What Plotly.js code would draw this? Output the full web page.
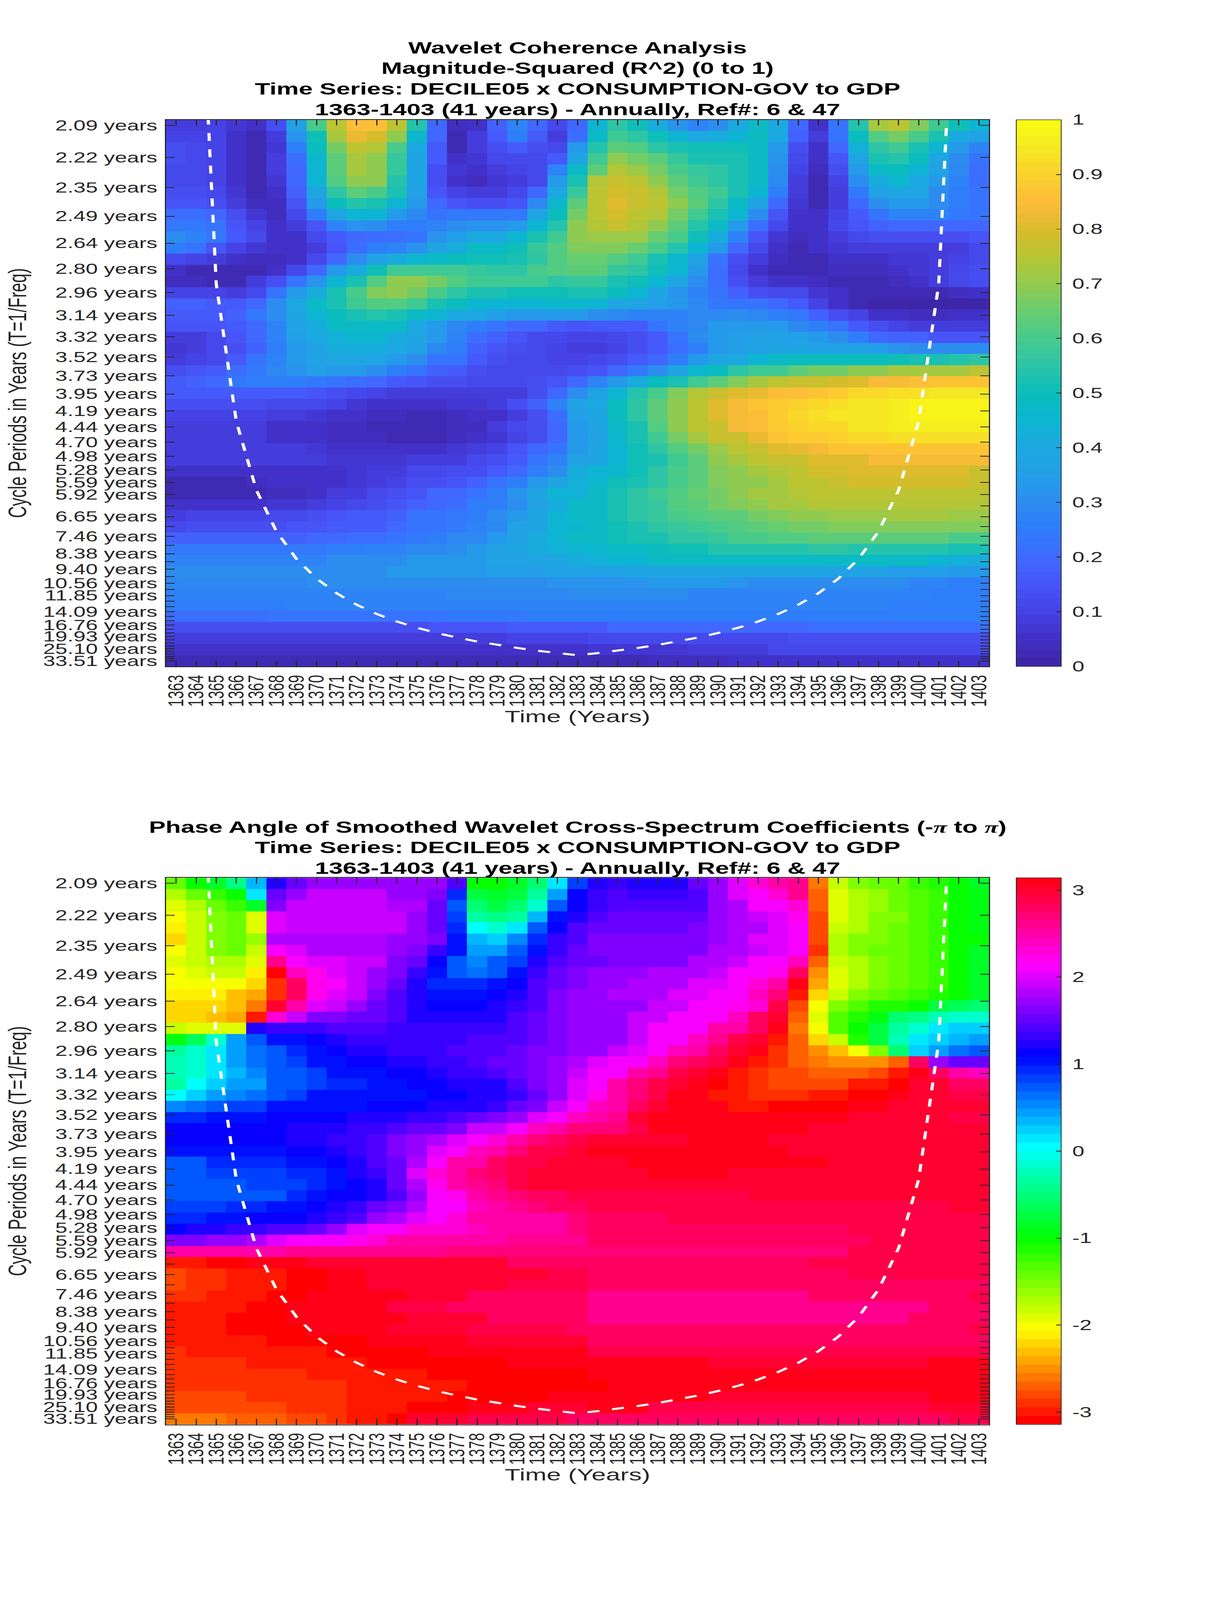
<!DOCTYPE html>
<html><head><meta charset="utf-8">
<script src="https://cdn.plot.ly/plotly-3.0.1.min.js"></script>
<style>html,body{margin:0;padding:0;background:#fff;overflow:hidden}#c{width:3125px;height:6252px}</style>
</head><body><div id="c"></div>
<script>
const years=[1363,1364,1365,1366,1367,1368,1369,1370,1371,1372,1373,1374,1375,1376,1377,1378,1379,1380,1381,1382,1383,1384,1385,1386,1387,1388,1389,1390,1391,1392,1393,1394,1395,1396,1397,1398,1399,1400,1401,1402,1403];
const periods=[2.0946,2.2191,2.3511,2.4909,2.6390,2.7959,2.9622,3.1383,3.3249,3.5227,3.7322,3.9541,4.1892,4.4383,4.7022,4.9818,5.2780,5.5919,5.9244,6.2767,6.6499,7.0454,7.4644,7.9082,8.3784,8.8766,9.4044,9.9636,10.5561,11.1838,11.8488,12.5533,13.2998,14.0906,14.9285,15.8161,16.7566,17.7530,18.8086,19.9270,21.1119,22.3673,23.6973,25.1040,26.5992,28.1809,29.8566,31.6319,33.5128];
const labeledPeriods=[0,1,2,3,4,5,6,7,8,9,10,11,12,13,14,15,16,17,18,20,22,24,26,28,30,33,36,39,43,48];
const coiYears=[1364,1365,1366,1367,1368,1369,1370,1371,1372,1373,1374,1375,1376,1377,1378,1379,1380,1381,1382,1383,1384,1385,1386,1387,1388,1389,1390,1391,1392,1393,1394,1395,1396,1397,1398,1399,1400,1401,1402];
const coiFreq=[.69,.345,.23,.1725,.138,.115,.0986,.0863,.0767,.069,.0627,.0575,.0531,.0493,.046,.0431,.0406,.0383,.0363,.0345,.0363,.0383,.0406,.0431,.046,.0493,.0531,.0575,.0627,.069,.0767,.0863,.0986,.115,.138,.1725,.23,.345,.69];

// Magnitude-squared coherence, one line per period, from 2.09 years down to 33.51 years
const coherence=[
[.09,.09,.10,.07,.05,.13,.37,.60,.76,.85,.85,.76,.54,.20,.04,.05,.18,.28,.20,.12,.20,.44,.56,.50,.42,.32,.28,.30,.40,.47,.40,.20,.06,.22,.54,.72,.75,.68,.58,.50,.44],
[.10,.10,.10,.05,.03,.08,.32,.51,.72,.82,.79,.70,.46,.19,.03,.08,.17,.25,.17,.09,.21,.47,.58,.56,.50,.45,.40,.42,.45,.49,.40,.18,.09,.22,.49,.62,.66,.60,.52,.40,.36],
[.13,.12,.10,.05,.03,.07,.26,.49,.66,.76,.74,.60,.40,.17,.03,.08,.14,.17,.13,.12,.33,.54,.64,.61,.55,.52,.50,.50,.51,.48,.33,.14,.06,.20,.43,.56,.59,.53,.44,.34,.28],
[.13,.11,.10,.05,.03,.08,.21,.46,.64,.72,.70,.57,.38,.16,.05,.07,.12,.11,.11,.16,.39,.59,.70,.67,.63,.57,.53,.53,.52,.48,.32,.12,.05,.15,.39,.52,.54,.49,.38,.30,.23],
[.12,.11,.10,.05,.03,.08,.19,.45,.63,.73,.69,.57,.38,.14,.07,.05,.09,.10,.12,.27,.48,.64,.74,.71,.66,.60,.57,.55,.53,.47,.31,.10,.04,.14,.33,.47,.49,.45,.36,.29,.21],
[.11,.11,.10,.05,.03,.07,.19,.45,.61,.69,.69,.54,.38,.13,.06,.04,.07,.08,.12,.33,.53,.74,.77,.75,.69,.63,.58,.55,.52,.47,.29,.09,.02,.10,.31,.42,.46,.40,.33,.28,.21],
[.14,.13,.11,.07,.03,.05,.18,.39,.55,.64,.60,.53,.36,.15,.10,.09,.08,.11,.19,.40,.57,.76,.79,.77,.74,.66,.62,.59,.52,.44,.25,.09,.02,.09,.24,.37,.39,.38,.31,.26,.23],
[.15,.15,.14,.09,.04,.04,.15,.34,.49,.54,.52,.44,.33,.19,.15,.14,.14,.15,.29,.46,.63,.76,.80,.78,.75,.70,.64,.56,.48,.38,.20,.07,.03,.09,.20,.31,.34,.33,.30,.26,.23],
[.21,.21,.20,.13,.07,.04,.11,.26,.39,.44,.44,.34,.29,.23,.24,.24,.24,.24,.38,.49,.67,.75,.79,.76,.74,.67,.58,.52,.44,.31,.15,.06,.05,.10,.16,.23,.28,.28,.27,.24,.23],
[.24,.24,.23,.15,.10,.06,.08,.15,.27,.32,.30,.26,.26,.28,.31,.32,.32,.34,.45,.54,.69,.74,.77,.74,.70,.64,.54,.47,.34,.21,.11,.06,.06,.12,.15,.18,.20,.20,.20,.20,.20],
[.30,.28,.24,.16,.11,.06,.05,.11,.16,.20,.21,.21,.22,.32,.35,.40,.40,.45,.52,.59,.69,.71,.71,.71,.65,.60,.51,.41,.27,.15,.07,.04,.05,.09,.12,.13,.14,.14,.13,.14,.15],
[.25,.22,.15,.10,.07,.05,.05,.09,.15,.21,.25,.28,.32,.38,.42,.47,.48,.51,.57,.62,.68,.68,.68,.65,.60,.54,.44,.33,.20,.11,.06,.03,.05,.07,.08,.09,.08,.08,.08,.09,.12],
[.12,.10,.08,.05,.04,.04,.05,.11,.20,.30,.36,.41,.46,.47,.49,.50,.51,.53,.55,.62,.65,.65,.61,.58,.53,.46,.36,.22,.14,.08,.04,.03,.02,.05,.06,.06,.07,.07,.08,.10,.11],
[.06,.03,.02,.02,.02,.05,.11,.20,.34,.42,.51,.58,.59,.59,.58,.57,.56,.56,.60,.62,.64,.64,.57,.55,.50,.45,.34,.21,.12,.06,.03,.03,.02,.04,.04,.04,.05,.07,.09,.12,.13],
[.04,.04,.03,.03,.08,.14,.22,.32,.44,.53,.61,.69,.69,.66,.62,.58,.58,.58,.58,.56,.57,.57,.53,.50,.45,.38,.30,.21,.14,.08,.06,.05,.04,.03,.03,.03,.04,.05,.08,.12,.13],
[.10,.10,.10,.09,.12,.23,.33,.41,.52,.60,.68,.69,.66,.60,.56,.52,.52,.51,.51,.51,.52,.52,.49,.44,.38,.32,.27,.22,.18,.14,.12,.11,.07,.05,.03,.02,.02,.02,.03,.04,.05],
[.18,.18,.17,.17,.20,.30,.40,.47,.53,.58,.61,.61,.58,.53,.49,.46,.45,.45,.45,.46,.46,.45,.39,.38,.35,.33,.29,.24,.23,.22,.19,.16,.10,.06,.03,.01,.01,.01,.01,.01,.01],
[.17,.17,.17,.18,.24,.31,.38,.45,.49,.53,.54,.53,.48,.44,.40,.40,.35,.33,.33,.33,.33,.30,.29,.28,.28,.28,.29,.29,.30,.29,.26,.24,.18,.14,.10,.06,.05,.04,.04,.05,.05],
[.15,.15,.15,.16,.20,.28,.36,.41,.47,.48,.48,.47,.40,.34,.29,.26,.22,.20,.20,.17,.15,.16,.16,.17,.22,.27,.29,.33,.34,.34,.33,.29,.25,.22,.16,.13,.10,.09,.08,.08,.08],
[.09,.09,.11,.15,.19,.27,.35,.40,.43,.46,.46,.42,.38,.33,.28,.21,.18,.15,.12,.11,.10,.10,.12,.13,.17,.22,.31,.33,.35,.36,.36,.35,.33,.30,.25,.20,.18,.18,.15,.15,.15],
[.07,.09,.11,.13,.18,.26,.33,.37,.41,.41,.41,.40,.37,.29,.26,.18,.15,.13,.11,.10,.09,.09,.10,.14,.17,.21,.26,.34,.35,.37,.39,.39,.37,.37,.36,.35,.32,.30,.30,.30,.30],
[.09,.10,.12,.17,.22,.27,.33,.37,.38,.39,.39,.34,.31,.23,.23,.17,.13,.11,.11,.10,.10,.11,.14,.16,.20,.26,.33,.39,.40,.45,.47,.49,.49,.49,.49,.49,.51,.52,.52,.54,.55],
[.13,.15,.17,.21,.24,.29,.32,.35,.33,.33,.30,.25,.23,.18,.17,.14,.12,.11,.11,.11,.14,.15,.19,.24,.30,.39,.46,.49,.55,.58,.58,.63,.66,.66,.70,.70,.72,.72,.72,.73,.76],
[.17,.18,.20,.24,.26,.26,.26,.24,.22,.21,.19,.17,.15,.14,.13,.12,.12,.12,.13,.15,.20,.27,.33,.41,.49,.53,.58,.64,.68,.72,.76,.77,.78,.79,.81,.83,.84,.85,.86,.87,.87],
[.16,.16,.16,.17,.17,.17,.16,.15,.13,.12,.10,.09,.08,.08,.08,.09,.09,.08,.14,.20,.31,.37,.45,.54,.60,.68,.74,.78,.81,.82,.85,.85,.87,.89,.91,.92,.93,.93,.95,.95,.95],
[.13,.13,.13,.13,.13,.12,.12,.11,.10,.07,.05,.05,.05,.05,.07,.07,.09,.13,.18,.27,.36,.40,.49,.55,.64,.70,.76,.80,.84,.87,.89,.90,.91,.93,.95,.95,.96,.97,.98,.98,.98],
[.10,.10,.10,.10,.10,.08,.08,.07,.06,.05,.04,.04,.02,.02,.04,.05,.06,.09,.14,.21,.35,.39,.49,.56,.64,.69,.75,.80,.83,.85,.89,.91,.93,.94,.95,.95,.96,.98,.98,.98,.98],
[.08,.08,.08,.08,.08,.06,.06,.06,.04,.04,.03,.02,.02,.03,.04,.04,.08,.11,.14,.20,.34,.38,.47,.53,.62,.69,.75,.78,.83,.85,.88,.90,.91,.92,.94,.95,.96,.96,.96,.96,.96],
[.08,.08,.08,.08,.08,.06,.06,.05,.04,.04,.04,.03,.03,.03,.04,.05,.07,.10,.14,.20,.33,.37,.46,.52,.58,.66,.73,.77,.78,.82,.87,.88,.89,.90,.92,.92,.93,.93,.93,.93,.93],
[.08,.08,.08,.08,.08,.08,.08,.07,.06,.06,.05,.05,.05,.06,.07,.08,.10,.15,.19,.22,.33,.38,.45,.50,.55,.62,.67,.71,.76,.78,.80,.82,.84,.86,.86,.87,.87,.87,.87,.86,.86],
[.08,.08,.08,.08,.08,.08,.08,.08,.07,.07,.07,.07,.08,.09,.09,.12,.14,.17,.23,.27,.36,.39,.45,.50,.53,.59,.63,.69,.72,.75,.77,.78,.80,.81,.81,.84,.84,.84,.84,.84,.84],
[.05,.05,.05,.05,.06,.06,.06,.06,.06,.07,.09,.09,.11,.11,.13,.13,.16,.20,.26,.31,.41,.45,.46,.51,.56,.60,.63,.68,.69,.72,.74,.76,.79,.79,.81,.81,.81,.81,.81,.81,.78],
[.03,.03,.03,.03,.04,.05,.05,.05,.06,.07,.09,.10,.13,.14,.15,.18,.23,.26,.33,.39,.43,.46,.51,.53,.56,.60,.63,.68,.69,.70,.73,.75,.76,.78,.79,.79,.79,.79,.79,.79,.77],
[.03,.03,.03,.03,.03,.04,.04,.05,.08,.09,.11,.13,.15,.19,.20,.22,.25,.32,.38,.44,.43,.47,.52,.55,.58,.61,.65,.67,.70,.72,.73,.74,.75,.76,.76,.76,.76,.76,.76,.76,.76],
[.05,.05,.05,.05,.05,.07,.07,.08,.10,.11,.13,.15,.18,.19,.21,.25,.26,.31,.37,.42,.47,.47,.52,.55,.57,.61,.63,.66,.68,.70,.72,.73,.74,.74,.74,.74,.74,.74,.74,.74,.74],
[.08,.10,.10,.10,.10,.11,.11,.13,.15,.16,.17,.18,.22,.22,.24,.26,.31,.34,.39,.44,.47,.47,.52,.55,.57,.60,.61,.63,.64,.66,.68,.70,.70,.71,.71,.71,.73,.73,.73,.71,.71],
[.12,.14,.14,.14,.14,.14,.15,.15,.16,.16,.17,.20,.22,.22,.24,.28,.29,.36,.38,.45,.46,.47,.50,.53,.55,.57,.58,.60,.61,.64,.65,.67,.67,.68,.68,.68,.68,.68,.68,.68,.68],
[.18,.18,.18,.18,.18,.18,.18,.20,.20,.21,.21,.23,.24,.25,.29,.29,.33,.36,.41,.44,.47,.47,.50,.52,.53,.55,.56,.57,.60,.60,.62,.62,.64,.64,.64,.64,.64,.64,.64,.60,.60],
[.24,.24,.24,.24,.24,.24,.24,.24,.26,.26,.27,.27,.29,.29,.31,.33,.36,.39,.41,.43,.44,.46,.47,.47,.49,.51,.51,.54,.54,.54,.54,.54,.55,.56,.54,.54,.54,.54,.54,.52,.52],
[.27,.27,.27,.27,.27,.27,.27,.27,.30,.30,.30,.31,.33,.33,.34,.34,.37,.37,.38,.39,.42,.43,.44,.44,.47,.47,.47,.47,.47,.47,.47,.47,.47,.47,.47,.47,.47,.47,.45,.43,.42],
[.30,.30,.30,.30,.30,.31,.31,.31,.31,.31,.31,.33,.33,.33,.34,.34,.35,.35,.35,.36,.37,.37,.37,.39,.39,.39,.39,.39,.39,.39,.39,.39,.38,.37,.37,.37,.35,.35,.35,.34,.34],
[.29,.29,.29,.29,.29,.29,.29,.30,.30,.30,.30,.30,.30,.30,.30,.31,.31,.31,.31,.32,.32,.32,.32,.32,.33,.33,.33,.33,.32,.31,.31,.31,.31,.31,.31,.31,.30,.27,.27,.26,.26],
[.27,.27,.27,.27,.28,.28,.28,.28,.28,.28,.28,.28,.28,.28,.29,.29,.29,.29,.29,.29,.30,.30,.30,.30,.30,.30,.28,.28,.28,.28,.28,.28,.28,.28,.27,.27,.27,.27,.26,.25,.25],
[.26,.26,.26,.26,.26,.26,.27,.27,.27,.27,.27,.27,.27,.27,.27,.27,.27,.27,.27,.27,.27,.27,.27,.27,.27,.27,.27,.27,.27,.27,.27,.27,.27,.27,.27,.27,.26,.26,.26,.26,.26],
[.21,.21,.21,.21,.21,.22,.22,.22,.22,.22,.22,.22,.22,.22,.24,.24,.24,.24,.25,.25,.25,.25,.25,.25,.25,.26,.26,.26,.26,.26,.26,.26,.26,.26,.26,.26,.26,.26,.26,.26,.26],
[.13,.13,.13,.14,.14,.14,.14,.14,.14,.14,.14,.14,.14,.15,.15,.15,.15,.16,.16,.17,.17,.17,.19,.19,.19,.19,.20,.20,.20,.20,.20,.20,.21,.21,.21,.21,.21,.21,.21,.21,.21],
[.09,.09,.09,.08,.08,.08,.09,.09,.09,.09,.09,.09,.09,.09,.09,.09,.09,.10,.10,.10,.10,.11,.11,.11,.11,.11,.11,.12,.12,.12,.12,.14,.14,.14,.14,.14,.14,.14,.14,.14,.14],
[.05,.05,.05,.05,.05,.05,.05,.05,.05,.05,.05,.05,.05,.06,.06,.06,.06,.06,.06,.06,.06,.07,.07,.07,.07,.07,.08,.08,.08,.08,.11,.11,.11,.11,.11,.11,.11,.11,.11,.11,.11],
[.03,.03,.03,.03,.02,.02,.02,.02,.02,.02,.02,.02,.03,.03,.03,.03,.03,.03,.03,.03,.03,.03,.03,.03,.04,.04,.04,.04,.05,.05,.05,.05,.06,.06,.06,.06,.06,.06,.06,.06,.06]
];

// Phase angle in radians, same order
const phase=[
[-1.45,-1.05,-.8,-.45,.3,1.25,1.5,1.75,1.75,1.75,1.75,1.75,1.75,1.75,1.4,-1.05,-1.05,-.8,-.55,.1,.85,1.2,1.3,1.2,1.2,1.2,1.55,1.75,2.05,2.3,2.5,2.6,-2.6,-1.8,-1.55,-1.45,-1.45,-1.25,-1.15,-1.05,-.8],
[-1.7,-1.4,-1.2,-1.05,.15,1.55,1.75,1.9,1.9,1.9,1.9,1.75,1.75,1.6,.95,-.7,-.8,-.7,-.3,.4,1.1,1.3,1.4,1.3,1.3,1.3,1.45,1.75,2,2.15,2.3,2.6,-2.7,-1.9,-1.7,-1.6,-1.45,-1.3,-1.2,-1.05,-.9],
[-1.9,-1.7,-1.45,-1.2,-.8,1.65,1.9,1.9,1.9,1.9,1.9,1.8,1.8,1.55,.75,-.5,-.7,-.5,-.1,.7,1.15,1.35,1.45,1.4,1.4,1.4,1.45,1.75,1.85,2.1,2.15,2.35,-2.7,-1.9,-1.7,-1.6,-1.45,-1.3,-1.2,-1.05,-.9],
[-2.05,-1.8,-1.55,-1.45,-1.9,2,1.9,1.9,1.9,1.9,1.9,1.9,1.75,1.55,.85,-.35,-.45,-.3,.3,1,1.25,1.45,1.5,1.5,1.5,1.5,1.5,1.75,1.85,1.95,2.05,2.2,-2.8,-1.9,-1.7,-1.55,-1.55,-1.3,-1.2,-1.05,-.9],
[-2.15,-1.8,-1.55,-1.45,-1.9,2,1.9,1.9,1.9,1.9,1.9,1.9,1.75,1.55,.95,0,-.1,.15,.7,1.1,1.4,1.5,1.5,1.5,1.5,1.5,1.6,1.7,1.85,1.85,2,2.1,-2.8,-1.8,-1.7,-1.55,-1.45,-1.3,-1.2,-1.05,-.9],
[-2.2,-1.8,-1.55,-1.45,-1.6,1.85,1.85,1.85,1.85,1.85,1.85,1.75,1.75,1.6,1.05,.35,.25,.5,.9,1.3,1.45,1.6,1.6,1.6,1.6,1.6,1.65,1.7,1.85,2,2,2.1,-2.8,-1.7,-1.55,-1.55,-1.45,-1.3,-1.2,-1.05,-1],
[-2.05,-1.8,-1.55,-1.45,-1.8,2.1,2,1.85,1.85,1.85,1.85,1.7,1.65,1.3,1,.45,.45,.75,1.05,1.3,1.5,1.6,1.6,1.6,1.6,1.65,1.65,1.8,1.8,1.95,2.05,2.1,-2.9,-1.7,-1.55,-1.45,-1.45,-1.3,-1.2,-1.05,-.8],
[-1.9,-1.8,-1.7,-1.7,-1.9,2.6,2.1,2,2,1.95,1.95,1.65,1.55,1.1,.75,.55,.7,.85,1.2,1.4,1.55,1.55,1.65,1.65,1.65,1.65,1.8,1.8,1.95,2.1,2.1,2.4,-2.7,-1.8,-1.7,-1.55,-1.45,-1.3,-1.2,-1.05,-.8],
[-2.05,-1.9,-1.8,-1.8,-2.15,-3.13,2.45,2.2,2,1.95,1.75,1.65,1.3,1.05,.7,.65,.75,1.05,1.3,1.5,1.6,1.7,1.7,1.7,1.8,1.8,1.8,1.95,2.1,2.1,2.2,2.8,-2.5,-1.9,-1.7,-1.55,-1.45,-1.3,-1.2,-1.05,-.8],
[-2.05,-2.05,-2.05,-2.05,-2.25,-2.9,2.75,2.2,2.1,1.9,1.75,1.5,1.25,.9,.9,.9,1,1.1,1.45,1.5,1.65,1.7,1.7,1.85,1.85,1.85,2,2,2.1,2.3,2.5,3.05,-2.4,-1.9,-1.7,-1.55,-1.45,-1.3,-1.2,-1.05,-.8],
[-2.15,-2.15,-2.15,-2.3,-2.45,-2.9,2.75,2.2,2,1.9,1.6,1.4,1.25,1.05,1.05,1.05,1.1,1.2,1.45,1.6,1.7,1.7,1.8,1.8,1.8,2,2,2.1,2.1,2.4,2.7,-3,-2.2,-1.8,-1.55,-1.45,-1.3,-1.25,-1.15,-1.05,-.8],
[-2.2,-2.2,-2.2,-2.35,-2.6,3,2.5,2,1.9,1.75,1.5,1.4,1.2,1.1,1.1,1.1,1.2,1.3,1.45,1.6,1.7,1.7,1.75,1.75,1.95,1.95,2.1,2.1,2.2,2.35,2.9,-2.8,-2.05,-1.55,-1.3,-1.15,-1.1,-1.05,-.7,-.6,-.5],
[-2.2,-2.2,-2.35,-2.45,-3,2.3,1.9,1.65,1.65,1.55,1.55,1.45,1.25,1.2,1.2,1.2,1.25,1.4,1.5,1.6,1.7,1.7,1.75,1.9,1.9,2.1,2.15,2.15,2.45,2.8,2.95,-2.7,-1.9,-1.3,-1.1,-.95,-.55,-.45,-.25,-.1,-.1],
[-1.8,-1.9,-1.9,-1.9,1.25,1.35,1.35,1.35,1.4,1.4,1.4,1.35,1.35,1.35,1.35,1.35,1.35,1.45,1.5,1.6,1.7,1.7,1.75,1.9,2.1,2.1,2.15,2.5,2.5,2.8,3.05,-2.6,-2.05,-1.3,-1.05,-.7,-.3,-.1,.1,.2,.2],
[-.95,-.65,-.1,.4,.75,1,1.05,1.1,1.2,1.35,1.35,1.35,1.35,1.35,1.35,1.4,1.4,1.4,1.5,1.6,1.7,1.7,1.75,1.9,2.1,2.15,2.45,2.6,2.85,3,-3,-2.7,-2.2,-1.8,-1.15,-.7,-.2,.1,.2,.35,.4],
[-.3,-.1,.1,.4,.6,.75,.95,1.05,1.1,1.2,1.2,1.35,1.35,1.35,1.45,1.45,1.45,1.5,1.6,1.6,1.7,1.75,1.9,2.05,2.15,2.4,2.5,2.8,2.95,3.05,-2.9,-2.7,-2.5,-2.3,-2.05,-1.55,-.5,.2,.45,.6,.7],
[-.2,-.1,.1,.4,.6,.7,.85,1,1.05,1.1,1.1,1.2,1.2,1.35,1.35,1.45,1.55,1.55,1.65,1.75,1.85,2,2.1,2.1,2.45,2.7,2.8,2.9,3.05,-3,-2.9,-2.7,-2.6,-2.5,-2.5,-2.5,-2.7,2.8,1.7,1.5,1.5],
[-.25,-.1,.1,.35,.5,.7,.75,.85,1,1.05,1.05,1.1,1.1,1.2,1.35,1.35,1.4,1.5,1.65,1.75,1.9,2.1,2.15,2.5,2.6,2.85,3,3.05,-3,-2.9,-2.8,-2.8,-2.7,-2.7,-2.7,-2.8,-3,3.05,2.8,2.5,2.45],
[-.3,0,.2,.4,.45,.7,.75,.85,.95,.95,1.05,1.05,1.1,1.1,1.2,1.2,1.25,1.4,1.65,1.75,2,2.15,2.5,2.7,2.85,3,3.05,-3.13,-3,-2.9,-2.8,-2.8,-2.8,-2.8,-3,-3,-3.13,3,3,2.8,2.75],
[0,.2,.4,.5,.65,.75,.85,1,1,1,1.05,1.05,1.05,1.1,1.1,1.2,1.2,1.3,1.5,1.7,2,2.2,2.5,2.7,2.9,3.05,3.13,-3,-3,-2.9,-2.9,-2.9,-3,-3,-3.13,-3.13,3.05,3,3,2.85,2.85],
[.5,.6,.75,.85,.85,1,1,1.05,1.05,1.05,1.1,1.1,1.1,1.2,1.2,1.25,1.35,1.5,1.65,1.9,2.1,2.45,2.55,2.8,3,3.05,3.13,3.13,-3,-3,-3.13,-3.13,-3.13,-3.13,3.08,3.08,3,3,3,3,3],
[.95,.95,1.05,1.05,1.05,1.1,1.1,1.1,1.1,1.2,1.2,1.2,1.3,1.3,1.4,1.55,1.6,1.75,2.05,2.1,2.4,2.5,2.6,2.95,3.05,3.05,3.1,3.1,3.1,3.1,3.1,3.1,3.1,3.1,3,3,3,3,3,2.9,2.9],
[1.1,1.1,1.1,1.1,1.1,1.1,1.2,1.2,1.2,1.3,1.3,1.45,1.55,1.55,1.65,1.95,1.95,2.15,2.45,2.5,2.7,2.7,2.7,2.9,3.05,3.05,3.1,3.1,3.1,3.1,3.1,3.1,3,3,3,3,3,3,3,3,3],
[1.1,1.1,1.1,1.1,1.1,1.1,1.2,1.2,1.35,1.35,1.45,1.6,1.7,1.85,2.05,2.15,2.35,2.5,2.7,2.8,2.9,2.95,2.95,3,3,3,3.08,3.08,3.08,3.08,3,3,3,3,3,3,3,3,3,3,3],
[1.05,1.05,1.05,1.05,1.05,1.05,1.1,1.1,1.2,1.3,1.45,1.65,1.75,2.05,2.15,2.45,2.55,2.7,2.85,2.9,3,3.05,3.05,3.05,3.13,3.13,3.13,3.13,3.13,3.13,3.13,3,3,3,3,3,3,3,3,3,3],
[.75,.75,.9,.9,.9,.9,1,1,1.1,1.2,1.4,1.55,1.85,2.1,2.5,2.55,2.75,2.9,2.9,3,3,3,3,3.1,3.1,3.1,3.1,3.1,3.1,3.1,3.1,3.1,3.1,3,3,3,3,3,3,3,3],
[.72,.72,.85,.85,.85,.85,.95,.95,1.05,1.2,1.3,1.55,2,2.3,2.5,2.7,2.8,2.85,3,3,3,3,3,3,3.1,3.1,3.1,3.1,3,3,3,3,3,3,3,3,3,3,3,3,3],
[.72,.72,.72,.72,.8,.8,.8,.95,1.05,1.1,1.2,1.55,1.8,2.2,2.5,2.6,2.7,2.85,3,3,3,3,3,3,3,3,3,3,3,3,3,3,3,3,3,3,3,3,3,3,3],
[.72,.72,.72,.77,.77,.77,.95,1.05,1.1,1.15,1.2,1.45,1.75,2.15,2.2,2.5,2.6,2.7,2.8,2.8,2.85,2.9,2.9,2.9,2.9,2.9,2.9,2.9,2.9,3,3,3,3,3,3,3,3,3,3,3,3],
[.8,.8,.8,.95,.95,1.05,1.05,1.1,1.2,1.3,1.5,1.6,1.8,2.15,2.15,2.45,2.55,2.6,2.7,2.8,2.8,2.85,2.85,2.85,2.85,2.85,2.85,2.9,2.9,2.9,2.9,2.9,2.9,2.9,2.9,2.9,2.9,2.9,2.9,3,3],
[.9,.9,1.05,1.05,1.1,1.1,1.15,1.2,1.35,1.45,1.7,1.85,2.05,2.15,2.35,2.5,2.5,2.5,2.55,2.55,2.7,2.8,2.8,2.8,2.8,2.9,2.9,2.9,2.9,2.9,2.9,2.9,2.9,2.9,2.9,2.9,2.9,2.9,2.9,2.9,2.9],
[1.1,1.2,1.2,1.3,1.3,1.4,1.4,1.5,1.7,2,2.15,2.15,2.35,2.35,2.35,2.45,2.5,2.55,2.55,2.55,2.7,2.75,2.75,2.75,2.75,2.75,2.8,2.8,2.8,2.8,2.8,2.8,2.8,2.8,2.9,2.9,2.9,2.9,2.9,2.9,2.9],
[1.6,1.6,1.7,1.7,1.85,2.05,2.15,2.15,2.15,2.2,2.35,2.5,2.5,2.5,2.5,2.5,2.5,2.6,2.6,2.6,2.6,2.75,2.75,2.75,2.75,2.8,2.8,2.8,2.8,2.8,2.8,2.8,2.8,2.8,2.8,2.9,2.9,2.9,2.9,2.9,2.9],
[2.55,2.55,2.55,2.55,2.55,2.55,2.62,2.62,2.62,2.62,2.62,2.62,2.62,2.62,2.7,2.7,2.7,2.7,2.7,2.7,2.7,2.7,2.7,2.7,2.7,2.7,2.7,2.7,2.7,2.7,2.7,2.7,2.7,2.7,2.85,2.85,2.85,2.85,2.85,2.85,2.85],
[-3,-3,-3.13,-3.13,3.08,3.08,3.08,3.02,3.02,3.02,2.97,2.97,2.97,2.97,2.97,2.97,2.97,2.8,2.8,2.8,2.8,2.8,2.8,2.8,2.8,2.8,2.8,2.8,2.8,2.8,2.8,2.8,2.9,2.9,2.9,2.9,2.9,2.9,2.9,2.9,2.9],
[-2.8,-2.9,-2.9,-3,-3,-3,-3.13,-3.13,3.08,3.08,3.03,3.03,3.03,2.97,2.97,2.97,2.97,2.97,2.97,2.85,2.85,2.75,2.75,2.75,2.75,2.75,2.75,2.75,2.75,2.75,2.75,2.75,2.75,2.75,2.85,2.85,2.85,2.85,2.85,2.85,2.85],
[-2.8,-2.9,-2.9,-3,-3,-3,-3.13,-3.13,3.08,3.08,3.03,3.03,3.03,3,3,3,3,2.85,2.85,2.85,2.85,2.75,2.75,2.75,2.75,2.75,2.75,2.75,2.75,2.75,2.75,2.75,2.75,2.75,2.75,2.75,2.75,2.8,2.8,2.8,2.8],
[-2.9,-2.9,-3,-3,-3,-3.13,-3.13,3.1,3.1,3.05,3.05,3.05,3,3,3,2.8,2.8,2.8,2.8,2.8,2.8,2.65,2.65,2.65,2.65,2.65,2.65,2.65,2.65,2.65,2.65,2.65,2.8,2.8,2.8,2.8,2.8,2.8,2.8,2.8,2.9],
[-3,-3,-3,-3,-3.13,-3.13,3.08,3.08,3.08,3.05,3.05,2.9,2.9,2.9,2.8,2.8,2.8,2.8,2.8,2.75,2.75,2.65,2.65,2.65,2.65,2.65,2.65,2.65,2.65,2.65,2.65,2.65,2.65,2.65,2.65,2.65,2.65,2.65,2.75,2.75,2.75],
[-3,-3,-3,-3.13,-3.13,-3.13,3.08,3.08,3.08,3.05,3.05,3.05,3,3,3,3,2.8,2.8,2.8,2.8,2.8,2.65,2.65,2.65,2.65,2.65,2.65,2.65,2.65,2.65,2.65,2.65,2.65,2.65,2.65,2.65,2.65,2.75,2.75,2.75,2.75],
[-3,-3,-3,-3.13,-3.13,-3.13,-3.13,3.08,3.08,3.08,3.08,3,3,3,3,2.9,2.9,2.9,2.9,2.9,2.8,2.75,2.75,2.75,2.75,2.75,2.75,2.75,2.75,2.75,2.75,2.75,2.75,2.75,2.75,2.75,2.75,2.75,2.75,2.75,2.85],
[-3,-3,-3,-3,-3,-3.13,-3.13,-3.13,-3.13,-3.13,3.08,3.08,3.08,3.08,3.08,3.02,3.02,3.02,3.02,3.02,3,2.8,2.8,2.8,2.8,2.8,2.8,2.8,2.8,2.8,2.8,2.8,2.8,2.8,2.8,2.8,2.8,2.8,2.8,2.8,2.8],
[-2.9,-3,-3,-3,-3,-3,-3,-3,-3.13,-3.13,-3.13,-3.13,-3.13,3.08,3.08,3.08,3.08,3.08,3.08,3.05,3.05,2.9,2.9,2.9,2.9,2.9,2.9,2.9,2.9,2.9,2.9,2.9,2.9,2.9,2.9,2.9,2.9,2.9,2.9,2.9,2.9],
[-2.9,-2.9,-2.9,-2.9,-3,-3,-3,-3,-3,-3,-3.13,-3.13,-3.13,-3.13,-3.13,-3.13,-3.13,3.08,3.08,3.08,3.08,3.05,3.05,3.05,3.05,3.05,3.05,3,3,3,3,3,3,3,3,3,3,3,3.1,3.1,3.1],
[-2.9,-2.9,-2.9,-2.9,-2.9,-2.9,-2.9,-3,-3,-3,-3,-3,-3,-3.13,-3.13,-3.13,-3.13,-3.13,-3.13,-3.13,-3.13,3.1,3.1,3.1,3.1,3.1,3.1,3.1,3.1,3.1,3.1,3.1,3.1,3.1,3.1,3.1,3.1,3.1,3.1,3.1,3.1],
[-2.9,-2.9,-2.9,-2.9,-2.9,-2.9,-2.9,-2.9,-2.9,-3,-3,-3,-3,-3,-3,-3.13,-3.13,-3.13,-3.13,-3.13,-3.13,-3.13,3.1,3.1,3.1,3.1,3.1,3.1,3.1,3.1,3.1,3.1,3.1,3.1,3.1,3.1,3.1,3.1,3.1,3.1,3.1],
[-2.8,-2.8,-2.8,-2.8,-2.9,-2.9,-2.9,-2.9,-2.9,-3,-3,-3,-3,-3,-3.13,-3.13,-3.13,-3.13,-3.13,3.08,3.08,3.08,3.08,3.08,3.08,3.08,3.08,3,3,3,3,3,3,3,3,3,3,3,3.08,3.08,3.08],
[-2.8,-2.8,-2.8,-2.8,-2.8,-2.8,-2.9,-2.9,-2.9,-3,-3,-3,-3.13,-3.13,-3.13,3.08,3.08,3.08,3,3,3,3.05,3.05,3.05,2.9,2.9,2.9,2.9,2.9,2.9,2.9,2.9,2.9,2.9,2.9,2.9,2.9,2.9,3,3,3],
[-2.6,-2.6,-2.6,-2.7,-2.7,-2.7,-2.8,-2.8,-2.9,-3,-3,-3.13,3.03,3.03,3.03,2.9,2.9,2.9,2.9,2.9,2.8,2.8,2.8,2.8,2.8,2.8,2.8,2.8,2.8,2.8,2.8,2.8,2.8,2.8,2.8,2.8,2.8,2.8,2.8,2.9,2.9]
];

const piGlyph="<span style=\"font-family:'Liberation Serif',serif;font-style:italic\">\u03C0</span>";
const titleTop=["Wavelet Coherence Analysis","Magnitude-Squared (R^2) (0 to 1)","Time Series: DECILE05 x CONSUMPTION-GOV to GDP","1363-1403 (41 years) - Annually, Ref#: 6 &amp; 47"];
const titleBottom=["Phase Angle of Smoothed Wavelet Cross-Spectrum Coefficients (-"+piGlyph+" to "+piGlyph+")","Time Series: DECILE05 x CONSUMPTION-GOV to GDP","1363-1403 (41 years) - Annually, Ref#: 6 &amp; 47"];

const W=3125,H=6252,L=425,R=2531,INK='#262626',FONT='"Liberation Sans",Arial,sans-serif';
const parulaStops=['#3E26A8','#4232CB','#4545E8','#4756F9','#3E6CFF','#2F7DFA','#2C8CEF','#229FE8','#1CA9DF','#0CB6D2','#0ABDB9','#2BC4A8','#46CB8C','#66CD72','#90CB50','#B5C635','#D8BC2A','#FCBB3A','#FCCF2E','#F5E625','#F9FB15'];
function hex(c){return [1,3,5].map(i=>parseInt(c.substr(i,2),16));}
function parula(i){const t=i/63*(parulaStops.length-1),a=Math.min(Math.floor(t),parulaStops.length-2),f=t-a,p=hex(parulaStops[a]),q=hex(parulaStops[a+1]);return 'rgb('+p.map((v,k)=>Math.round(v+(q[k]-v)*f)).join(',')+')';}
function hsv(i){const h=i/64*6,s=Math.floor(h),f=h-s;const rgb=[[1,f,0],[1-f,1,0],[0,1,f],[0,1-f,1],[f,0,1],[1,0,1-f]][s];return 'rgb('+rgb.map(v=>Math.round(v*255)).join(',')+')';}
function steps(fn){const o=[];for(let i=0;i<64;i++){o.push([i/64,fn(i)],[(i+1)/64,fn(i)]);}return o;}

const freqTop=1/periods[0],freqBot=1/periods[48];
const half=(freqTop-freqBot)/48/2;
const rowCenters=periods.map((p,i)=>freqBot+(freqTop-freqBot)*(48-i)/48).reverse();
const tickFreq=periods.map(p=>1/p);
const tickText=periods.map((p,i)=>labeledPeriods.includes(i)?p.toFixed(2)+' years':'');
const up=m=>m.slice().reverse();

function xaxisSpec(anchor){return {domain:[L/W,R/W],anchor,range:[1362.5,1403.5],tickmode:'array',tickvals:years,ticktext:years.map(String),tickangle:-90,ticks:'inside',ticklen:22,tickwidth:3,tickcolor:INK,ticklabelstandoff:8,
  showline:true,mirror:'ticks',linecolor:INK,linewidth:3,showgrid:false,zeroline:false,tickfont:{family:FONT,size:56,color:INK},title:{text:'Time (Years)',font:{family:FONT,size:66,color:INK},standoff:16}};}
function yaxisSpec(anchor,top,bottom){return {domain:[1-bottom/H,1-top/H],anchor,range:[freqBot-half,freqTop+half],tickmode:'array',tickvals:tickFreq,ticktext:tickText,ticks:'inside',ticklen:22,tickwidth:3,tickcolor:INK,ticklabelstandoff:8,
  showline:true,mirror:'ticks',linecolor:INK,linewidth:3,showgrid:false,zeroline:false,tickfont:{family:FONT,size:56,color:INK},title:{text:'Cycle Periods in Years (T=1/Freq)',font:{family:FONT,size:65,color:INK},standoff:22}};}
function cbar(top,bottom,vals,text){return {x:2601/W,xanchor:'left',xpad:0,y:1-bottom/H,yanchor:'bottom',ypad:0,len:(bottom-top)/H,lenmode:'fraction',thickness:115,thicknessmode:'pixels',outlinecolor:INK,outlinewidth:2,ticks:'inside',ticklen:14,tickwidth:3,tickcolor:INK,tickmode:'array',tickvals:vals,ticktext:text.map(t=>'\u00A0'+t),tickfont:{family:FONT,size:56,color:INK}};}
function titleLine(text,yPx){return {xref:'paper',yref:'paper',x:(L+R)/2/W,y:1-yPx/H,xanchor:'center',yanchor:'middle',showarrow:false,align:'center',text:'<b>'+text+'</b>',font:{family:FONT,size:64,color:'#000'}};}

const T1=468,B1=2604,T2=3430,B2=5566;
const cohTicks=[0,.1,.2,.3,.4,.5,.6,.7,.8,.9,1];
const phTicks=[-3,-2,-1,0,1,2,3];
const coiStyle={color:'#ffffff',width:8,dash:'31px,33px'};
const data=[
 {type:'heatmap',x:years,y:rowCenters,z:up(coherence),xaxis:'x',yaxis:'y',zmin:0,zmax:1,zsmooth:false,colorscale:steps(parula),colorbar:cbar(T1,B1,cohTicks,cohTicks.map(String))},
 {type:'scatter',mode:'lines',x:coiYears,y:coiFreq,xaxis:'x',yaxis:'y',line:coiStyle,showlegend:false,hoverinfo:'skip'},
 {type:'heatmap',x:years,y:rowCenters,z:up(phase),xaxis:'x2',yaxis:'y2',zmin:-Math.PI,zmax:Math.PI,zsmooth:false,colorscale:steps(hsv),colorbar:cbar(T2,B2,phTicks,phTicks.map(String))},
 {type:'scatter',mode:'lines',x:coiYears,y:coiFreq,xaxis:'x2',yaxis:'y2',line:coiStyle,showlegend:false,hoverinfo:'skip'}
];
const topLineY=[187,267,348,428],bottomLineY=[3232,3312,3393];
const layout={width:W,height:H,paper_bgcolor:'#fff',plot_bgcolor:'#fff',showlegend:false,margin:{l:0,r:0,t:0,b:0,pad:0},
 font:{family:FONT,color:INK},
 xaxis:xaxisSpec('y'),yaxis:yaxisSpec('x',T1,B1),xaxis2:xaxisSpec('y2'),yaxis2:yaxisSpec('x2',T2,B2),
 annotations:titleTop.map((t,i)=>titleLine(t,topLineY[i])).concat(titleBottom.map((t,i)=>titleLine(t,bottomLineY[i])))};
const host=document.getElementById('c');
Plotly.newPlot(host,data,layout,{displayModeBar:false,responsive:false,staticPlot:true}).then(()=>{
  // The browser window may be shorter than the figure: keep the whole figure in view.
  const fit=Math.min(1,window.innerHeight/H);
  if(fit<1){host.style.transformOrigin='0 0';host.style.transform='scaleY('+fit+')';document.body.style.height=window.innerHeight+'px';}
});
</script></body></html>
